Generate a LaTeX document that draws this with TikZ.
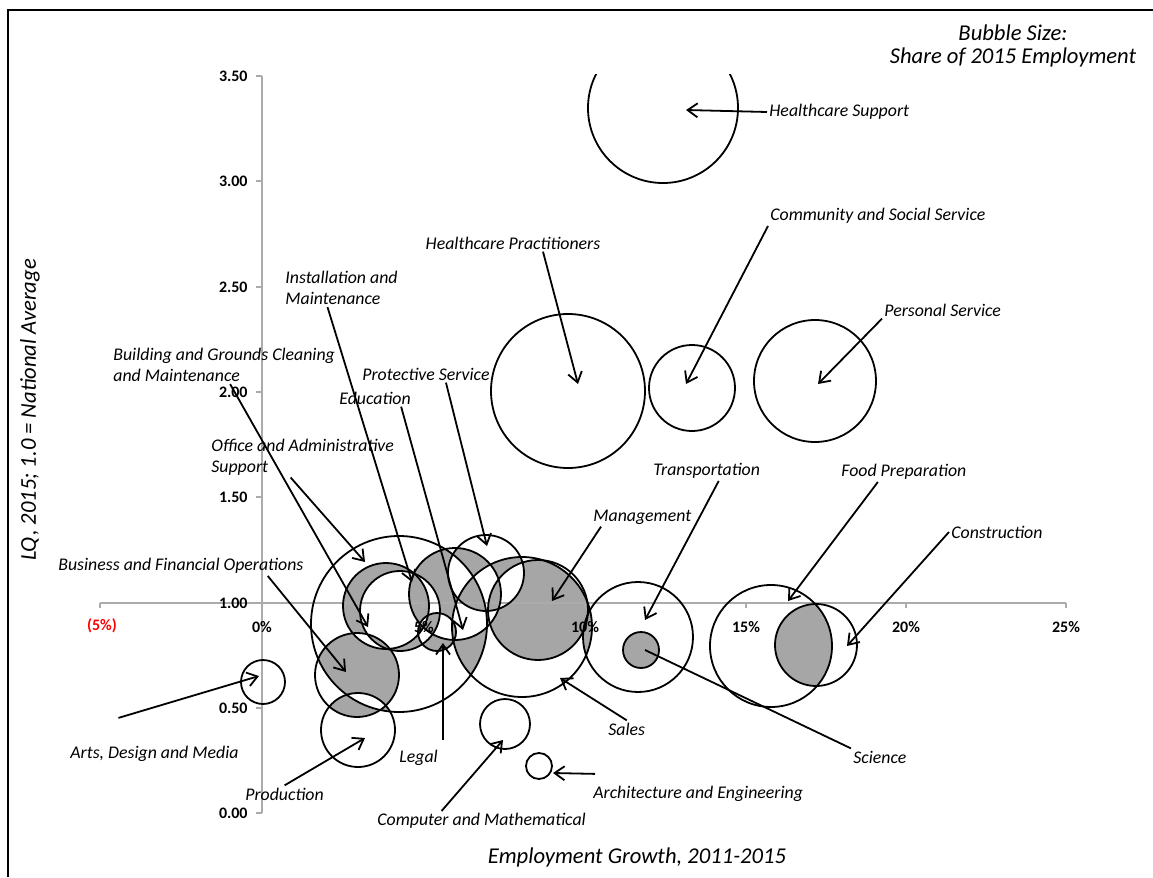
\documentclass[tikz,border=0pt]{standalone}
\usepackage{fontspec}
\setmainfont{Carlito}
\usetikzlibrary{arrows.meta}
\definecolor{bubblegray}{HTML}{A6A6A6}
\definecolor{axisgray}{HTML}{ABABAB}
\newcommand\bubblelist{hsup/663/108/75, hprac/568/391/77, comm/692/388/43, pers/815/381/61,
  office/399/624/88, bldg/386/606/43, inst/400/611/40, educ/455/594/46, prot/486/573/38,
  mgmt/538/610/50, sales/522/627/70, legal/437/632/19, bus/357/675/42, prod/358/730/37,
  arts/263/682/22, comp/505/724/25, arch/539/766/13, trans/638/637/55, sci/641/650/18,
  food/771/646/61, cons/816/645/41}

\begin{document}
\begin{tikzpicture}[x=0.5pt, y=-0.5pt,
    lbl/.style={font=\fontsize{8.9}{10.5}\selectfont\itshape, inner sep=1pt, align=left, anchor=west},
    ytick/.style={font=\fontsize{8}{9}\selectfont\bfseries, anchor=east, inner sep=0pt},
    xtick/.style={font=\fontsize{8}{9}\selectfont\bfseries, inner sep=0pt},
    ttl/.style={font=\fontsize{11.3}{11.5}\selectfont\itshape, inner sep=0pt, align=center},
    bubble/.style={draw, circle, line width=0.9pt, inner sep=0pt, outer sep=0pt},
    pointer/.style={-{Straight Barb[length=5pt,width=7pt]}, line width=0.9pt}]
  \useasboundingbox (0,0) rectangle (1153,878);
  \draw[line width=1.2pt] (8,877) -- (8,10) -- (1153,10);

  % bubble fills: gray where an even number of bubbles overlap
  \begin{scope}
    \clip (0,74) rectangle (1153,878);
    \fill[bubblegray] \foreach \n/\x/\y/\r in \bubblelist {(\x,\y) circle (\r)};
    \fill[white, even odd rule] \foreach \n/\x/\y/\r in \bubblelist {(\x,\y) circle (\r)};
  \end{scope}

  % axes
  \draw[axisgray, line width=1pt] (262,76) -- (262,813);
  \draw[axisgray, line width=1pt] (100,603) -- (1066,603);
  \foreach \y in {813, 708, 603, 497, 392, 287, 181, 76}
    \draw[axisgray, line width=1pt] (256,\y) -- (262,\y);
  \foreach \x in {100, 262, 424, 585, 746, 906, 1066}
    \draw[axisgray, line width=1pt] (\x,603) -- (\x,608);

  % bubble outlines
  \begin{scope}
    \clip (0,74) rectangle (1153,878);
    \foreach \n/\x/\y/\r in \bubblelist
      \node[bubble, minimum size=\r pt] (\n) at (\x,\y) {};
  \end{scope}

  % tick labels
  \foreach \v/\y in {0.00/813, 0.50/708, 1.00/603, 1.50/497, 2.00/392, 2.50/287, 3.00/181, 3.50/76}
    \node[ytick] (ty-\y) at (248,\y) {\v};
  \foreach \t/\x in {0\%/262, 5\%/424, 10\%/585, 15\%/746, 20\%/906, 25\%/1066}
    \node[xtick] (tx-\x) at (\x,627) {\t};
  \node[xtick, text=red] (tx-100) at (102,626) {(5\%)};

  % arrow tips
  \coordinate (hsup-t) at (686,110);
  \coordinate (comm-t) at (686,384);
  \coordinate (hprac-t) at (578,384);
  \coordinate (pers-t) at (818,384);
  \coordinate (inst-t) at (412,582);
  \coordinate (bldg-t) at (368,627);
  \coordinate (prot-t) at (487,546);
  \coordinate (educ-t) at (463,630);
  \coordinate (office-t) at (365,562);
  \coordinate (trans-t) at (645,620);
  \coordinate (food-t) at (788,601);
  \coordinate (mgmt-t) at (552,601);
  \coordinate (cons-t) at (847,646);
  \coordinate (bus-t) at (346,672);
  \coordinate (arts-t) at (259,676);
  \coordinate (legal-t) at (443,643);
  \coordinate (sales-t) at (560,678);
  \coordinate (sci-t) at (645,650);
  \coordinate (prod-t) at (365,738);
  \coordinate (comp-t) at (503,740);
  \coordinate (arch-t) at (553,773);

  % labels
  \node[lbl] (hsup-l) at (767,112) {Healthcare Support};
  \node[lbl] (comm-l) at (768,216) {Community and Social Service};
  \node[lbl, anchor=center] (hprac-l) at (513,243) {Healthcare Practitioners};
  \node[lbl] (pers-l) at (882,310) {Personal Service};
  \node[lbl] (inst-l) at (283,288) {Installation and\\Maintenance};
  \node[lbl] (bldg-l) at (111,365) {Building and Grounds Cleaning\\and Maintenance};
  \node[lbl] (prot-l) at (360,374) {Protective Service};
  \node[lbl] (educ-l) at (337,398) {Education};
  \node[lbl] (office-l) at (209,457) {Office and Administrative\\Support};
  \node[lbl] (trans-l) at (651,471) {Transportation};
  \node[lbl] (food-l) at (839,472) {Food Preparation};
  \node[lbl] (mgmt-l) at (591,517) {Management};
  \node[lbl] (cons-l) at (949,532) {Construction};
  \node[lbl] (bus-l) at (56,566) {Business and Financial Operations};
  \node[lbl] (arts-l) at (68,754) {Arts, Design and Media};
  \node[lbl] (legal-l) at (397,758) {Legal};
  \node[lbl] (sales-l) at (606,729) {Sales};
  \node[lbl] (sci-l) at (851,757) {Science};
  \node[lbl] (prod-l) at (243,794) {Production};
  \node[lbl] (comp-l) at (375,821) {Computer and Mathematical};
  \node[lbl] (arch-l) at (591,794) {Architecture and Engineering};

  \draw[pointer] (hsup-l.west) -- (hsup-t);
  \draw[pointer] (comm-l.south west) -- (comm-t);
  \draw[pointer] ([xshift=15pt]hprac-l.south) -- (hprac-t);
  \draw[pointer] (pers-l.south west) -- (pers-t);
  \draw[pointer] ([xshift=-7pt]inst-l.south) -- (inst-t);
  \draw[pointer] ([xshift=3pt]bldg-l.south) -- (bldg-t);
  \draw[pointer] ([xshift=10pt]prot-l.south) -- (prot-t);
  \draw[pointer] ([xshift=-6pt]educ-l.south east) -- (educ-t);
  \draw[pointer] ([xshift=-6pt]office-l.south) -- (office-t);
  \draw[pointer] ([xshift=6pt]trans-l.south) -- (trans-t);
  \draw[pointer] ([xshift=-13pt]food-l.south) -- (food-t);
  \draw[pointer] ([xshift=5pt]mgmt-l.south west) -- (mgmt-t);
  \draw[pointer] (cons-l.west) -- (cons-t);
  \draw[pointer] ([xshift=-19pt]bus-l.south east) -- (bus-t);
  \draw[pointer] ([xshift=-18pt,yshift=13pt]arts-l.north) -- (arts-t);
  \draw[pointer] ([yshift=4pt]legal-t |- legal-l.north) -- (legal-t);
  \draw[pointer] (sales-l.north) -- (sales-t);
  \draw[line width=0.9pt] (sci-l.north west) -- (sci-t);
  \draw[pointer] (prod-l.north) -- (prod-t);
  \draw[pointer] ([xshift=-20pt]comp-l.north) -- (comp-t);
  \draw[pointer] ([xshift=2pt,yshift=5pt]arch-l.north west) -- (arch-t);

  % titles
  \node[ttl] (xttl) at (637,857) {Employment Growth, 2011-2015};
  \node[ttl, rotate=90] (yttl) at (30,410) {LQ, 2015; 1.0 = National Average};
  \node[ttl] (sizettl) at (1013,46) {Bubble Size:\\Share of 2015 Employment};
\end{tikzpicture}
\end{document}
